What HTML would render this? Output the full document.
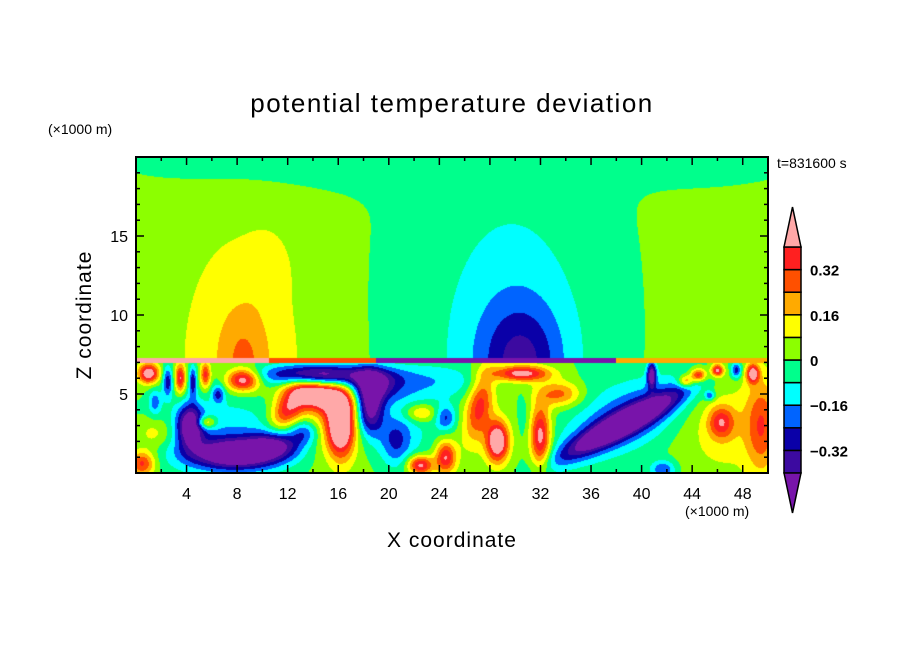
<!DOCTYPE html>
<html><head><meta charset="utf-8">
<style>
html,body{margin:0;padding:0;background:#fff;}
#wrap{position:relative;width:904px;height:654px;overflow:hidden;font-family:"Liberation Sans",sans-serif;}
#field{position:absolute;left:136px;top:157px;width:632px;height:316px;}
svg{position:absolute;left:0;top:0;}
</style></head>
<body>
<div id="wrap">
<canvas id="field" width="632" height="316"></canvas>
<svg id="ov" width="904" height="654"></svg>
</div>
<script>
const levelEdges = [-0.40,-0.32,-0.24,-0.16,-0.08,0,0.08,0.16,0.24,0.32,0.40];
const levelColors = ["#7814aa","#3c0aa0","#0a00a8","#0064ff","#00ffff","#00ff8c","#8cff00","#ffff00","#ffaa00","#ff5000","#ff2020","#ffa8a8"];
const cbarLabels = ["0.32","0.16","0","\u22120.16","\u22120.32"];
const cbarLabelVals = [0.32,0.16,0,-0.16,-0.32];
const xTicks = [4,8,12,16,20,24,28,32,36,40,44,48];
const zTicks = [5,10,15];
// upper layer anomalies
const upX  = [10, 46, 29, 30, 30.5, 8.5, 8.5, 10.5];
const upZ  = [20.5, 20.5, 10, 7, 7, 7, 7, 13];
const upSx = [12, 7, 11, 5.1, 3, 5, 1.8, 1.5];
const upSz = [2.2, 2, 20, 8, 3.5, 8.5, 3.2, 2];
const upA  = [-0.1, -0.1, -0.08, -0.12, -0.2, 0.12, 0.12, 0.06];
const upBase = 0.03;
// inversion strip segments near z=7
const stripStart = [0, 10.5, 19, 38];
const stripEnd   = [10.5, 19, 38, 50];
const stripVal   = [0.45, 0.3, -0.45, 0.2];
// lower layer anomalies
const loX  = [8,4.3,11,7, 12,14.3,16.2,15, 14.5,18.5,19, 8.5,1,2.5,3.5,4.5,5.5,6.5,1.5,5.5,0.5,1.5,
              20.5,22.5,22.5,24.5,24.5,24,27.2,28.6,30.5,30.7,32,33.5,21.5,
              38.5,38.5,39,40.8,41.7, 46.3,49.5,45.4,46.5,44.5,46,47.5,48.8,43.5, 13.3];
const loZ  = [1.2,3.0,1.8,2.2, 4,5,3,3.8, 6.2,4.2,5.5, 5.9,6.3,5.8,6,5.8,6.2,5,4.5,3.2,0.6,2.5,
              2,3.8,0.5,1.0,3.5,5.8,4.3,2.0,6.3,3.5,2.3,5,3,
              3.1,3.2,4,6.2,0.2, 3.2,3,4.9,3,6.2,6.5,6.5,6.3,5.8, 2.6];
const loSx = [3.5,1.0,2,6, 1.5,2.3,1.1,3.2, 4.5,1.1,2, 1.3,0.8,0.4,0.4,0.3,0.4,0.5,0.5,0.8,1,1.5,
              1.2,1.3,1,0.8,0.8,4,1,0.9,2.2,0.5,0.8,1.7,2.5,
              4.8,6,6,0.35,1, 1,1.2,0.4,4,0.6,0.5,0.4,0.5,0.6, 1.2];
const loSz = [0.9,1.3,0.8,2.6, 1,0.9,2,2.6, 0.7,1.8,1, 0.7,0.6,1,0.9,1,0.8,0.6,0.8,0.4,0.8,1,
              1.5,0.6,0.6,1.0,0.8,1.2,2.3,1.3,0.5,1.5,2,0.8,3,
              0.75,1.7,3,0.8,0.6, 1,3,0.3,3,0.4,0.4,0.5,0.6,0.4, 0.8];
const loA  = [-0.55,-0.5,-0.3,-0.18, 0.35,0.5,0.55,0.15, -0.55,-0.5,-0.3, 0.5,0.5,-0.3,0.4,-0.3,0.35,-0.25,-0.2,0.3,0.35,0.15,
              -0.2,0.22,0.45,0.4,-0.25,-0.15,0.35,0.55,0.45,-0.05,0.45,0.28,-0.12,
              -0.55,-0.2,-0.1,-0.45,-0.25, 0.3,0.25,-0.25,0.12,0.4,0.45,-0.3,0.45,0.3, -0.25];
const loAng= [0,0,0,0, 40,-10,0,0, 0,0,0, 0,0,0,0,0,0,0,0,0,0,0,
              0,0,0,0,0,0,-15,0,0,0,0,0,0,
              23,23,0,0,0, 0,0,0,0,0,0,0,0,0, 0];
const loBase = 0.02;

const X0=136,Y0=157,W=632,H=316,XMAX=50,ZMAX=20;
const sx = v => X0 + v/XMAX*W;
const sy = v => Y0 + H - v/ZMAX*H;

function blobSum(x,z,X,Z,SX,SZ,A,ANG){
  let s=0;
  for(let i=0;i<X.length;i++){
    let dx=x-X[i], dz=z-Z[i];
    if(ANG && ANG[i]){const a=ANG[i]*Math.PI/180,c=Math.cos(a),n=Math.sin(a);const u=dx*c+dz*n,v=-dx*n+dz*c;dx=u;dz=v;}
    const q=(dx/SX[i])**2+(dz/SZ[i])**2;
    if(q<20) s+=A[i]*Math.exp(-q);
  }
  return s;
}
function fieldAt(x,z){
  if(z>6.95 && z<7.25){
    for(let i=0;i<stripStart.length;i++) if(x>=stripStart[i]&&x<stripEnd[i]) return stripVal[i];
  }
  if(z>=7.25) return upBase+blobSum(x,z,upX,upZ,upSx,upSz,upA,null);
  return loBase+blobSum(x,z,loX,loZ,loSx,loSz,loA,loAng);
}
function colorIdx(v){let k=0;while(k<levelEdges.length&&v>=levelEdges[k])k++;return k;}
function hex(c){return [parseInt(c.substr(1,2),16),parseInt(c.substr(3,2),16),parseInt(c.substr(5,2),16)];}

const cv=document.getElementById('field'),ctx=cv.getContext('2d');
const img=ctx.createImageData(W,H);
const rgb=levelColors.map(hex);
for(let py=0;py<H;py++){for(let px=0;px<W;px++){
  const x=(px+0.5)/W*XMAX, z=(H-py-0.5)/H*ZMAX;
  const c=rgb[colorIdx(fieldAt(x,z))];const o=(py*W+px)*4;
  img.data[o]=c[0];img.data[o+1]=c[1];img.data[o+2]=c[2];img.data[o+3]=255;
}}
ctx.putImageData(img,0,0);

const NS="http://www.w3.org/2000/svg",ov=document.getElementById('ov');
function mk(tag,at,txt){const e=document.createElementNS(NS,tag);for(const k in at)e.setAttribute(k,at[k]);if(txt!==undefined)e.textContent=txt;ov.appendChild(e);return e;}
for(let v=2;v<XMAX;v+=2){const L=(v%4===0)?8:4;
  const t1=mk('line',{x1:sx(v),x2:sx(v),y1:Y0+H,y2:Y0+H-L,stroke:'#000','stroke-width':1.5});
  
  const t2=mk('line',{x1:sx(v),x2:sx(v),y1:Y0,y2:Y0+L,stroke:'#000','stroke-width':1.5});
  }
for(let v=1;v<ZMAX;v++){const L=(v%5===0)?8:4;
  const t1=mk('line',{x1:X0,x2:X0+L,y1:sy(v),y2:sy(v),stroke:'#000','stroke-width':1.5});
  
  const t2=mk('line',{x1:X0+W,x2:X0+W-L,y1:sy(v),y2:sy(v),stroke:'#000','stroke-width':1.5});
  }
const fr=mk('rect',{x:X0,y:Y0,width:W,height:H,fill:'none',stroke:'#000','stroke-width':2});

xTicks.forEach(v=>{const t=mk('text',{x:sx(v),y:499,'text-anchor':'middle','font-size':16},String(v));
  });
zTicks.forEach(v=>{const t=mk('text',{x:X0-8,y:sy(v)+6,'text-anchor':'end','font-size':16},String(v));
  });
let e;
e=mk('text',{x:452,y:112,'text-anchor':'middle','font-size':26,'letter-spacing':1.5},'potential temperature deviation');

e=mk('text',{x:48,y:134,'font-size':14},'(\u00d71000 m)');

e=mk('text',{x:685,y:516,'font-size':14},'(\u00d71000 m)');

e=mk('text',{x:452,y:547,'text-anchor':'middle','font-size':21,'letter-spacing':1},'X coordinate');

e=mk('text',{x:0,y:0,'text-anchor':'middle','font-size':21,'letter-spacing':1,transform:'translate(91,315) rotate(-90)'},'Z coordinate');

e=mk('text',{x:777,y:168,'font-size':14},'t=831600 s');

const CBX=784,CBW=17,CBT=247,CBB=473,nb=levelEdges.length-1,bh=(CBB-CBT)/nb;
const cy=v=>CBB-(v-levelEdges[0])/(levelEdges[nb]-levelEdges[0])*(CBB-CBT);
for(let i=0;i<nb;i++){
  const r=mk('rect',{x:CBX,y:cy(levelEdges[i+1]),width:CBW,height:bh,fill:levelColors[i+1],stroke:'#000','stroke-width':1.5});
  }
e=mk('path',{d:`M${CBX},${CBT} L${CBX+CBW/2},207 L${CBX+CBW},${CBT} Z`,fill:levelColors[levelColors.length-1],stroke:'#000','stroke-width':1.5});

e=mk('path',{d:`M${CBX},${CBB} L${CBX+CBW/2},513 L${CBX+CBW},${CBB} Z`,fill:levelColors[0],stroke:'#000','stroke-width':1.5});

cbarLabels.forEach((s,i)=>{const t=mk('text',{x:810,y:cy(cbarLabelVals[i])+6,'font-size':15,'font-weight':'bold'},s);
  });
</script>
</body></html>
